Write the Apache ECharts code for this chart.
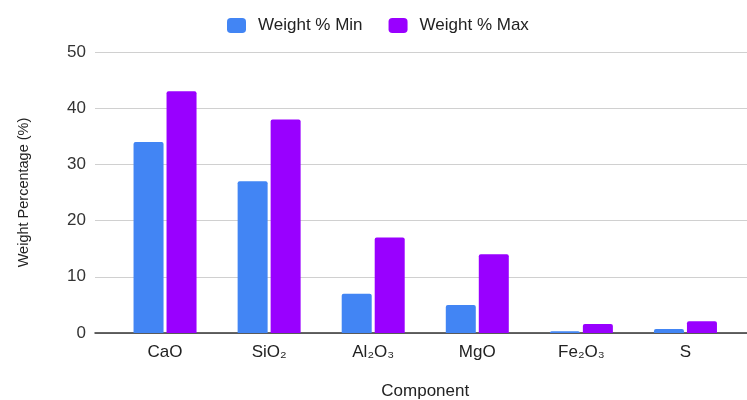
<!DOCTYPE html>
<html>
<head>
<meta charset="utf-8">
<script src="https://cdn.jsdelivr.net/npm/echarts@6/dist/echarts.min.js"></script>
<style>html,body{margin:0;padding:0;background:#fff;}#c{width:747px;height:400px;}</style>
</head>
<body>
<div id="c"></div>
<script>
const categories = ['CaO', 'SiO₂', 'Al₂O₃', 'MgO', 'Fe₂O₃', 'S'];
const minValues = [34, 27, 7, 5, 0.3, 0.7];
const maxValues = [43, 38, 17, 14, 1.6, 2.1];
const yTicks = [0, 10, 20, 30, 40, 50];

const font = 'Liberation Sans, Arial, sans-serif';
const chart = echarts.init(document.getElementById('c'), null, {renderer: 'canvas'});
chart.setOption({
  backgroundColor: '#ffffff',
  animation: false,
  textStyle: {fontFamily: font},
  legend: {
    top: 12, left: 222,
    itemWidth: 19, itemHeight: 15, itemGap: 26,
    icon: 'roundRect',
    textStyle: {fontFamily: font, fontSize: 17, color: '#222', padding: [0, 0, 0, 7]},
    data: ['Weight % Min', 'Weight % Max']
  },
  grid: [
    {left: 95, right: 0, top: 52, bottom: 67, outerBoundsMode: 'none', containLabel: false},
    {left: 113, right: 9.5, top: 52, bottom: 67, outerBoundsMode: 'none', containLabel: false}
  ],
  xAxis: [
    {gridIndex: 0, type: 'category', data: [''], axisLine: {lineStyle: {color: '#333', width: 1.5}},
     axisTick: {show: false}, axisLabel: {show: false}},
    {gridIndex: 1, type: 'category', data: categories,
     axisLine: {show: false}, axisTick: {show: false},
     axisLabel: {fontFamily: font, fontSize: 17, color: '#222', margin: 11},
     name: 'Component', nameLocation: 'middle', nameGap: 50,
     nameTextStyle: {fontFamily: font, fontSize: 17, color: '#222'}}
  ],
  yAxis: [
    {gridIndex: 0, type: 'value', min: yTicks[0], max: yTicks[yTicks.length - 1], interval: 10,
     axisLine: {show: false}, axisTick: {show: false},
     splitLine: {lineStyle: {color: '#d0d0d0', width: 1}},
     axisLabel: {fontFamily: font, fontSize: 17, color: '#333', margin: 9},
     name: 'Weight Percentage (%)', nameLocation: 'middle', nameGap: 64,
     nameTextStyle: {fontFamily: font, fontSize: 14.5, color: '#222'}},
    {gridIndex: 1, type: 'value', min: 0, max: 50, interval: 10, show: false}
  ],
  series: [
    {name: 'Weight % Min', type: 'bar', xAxisIndex: 1, yAxisIndex: 1, data: minValues,
     barWidth: 30, barGap: '10%', itemStyle: {color: '#4285F4', borderRadius: [2, 2, 0, 0]}},
    {name: 'Weight % Max', type: 'bar', xAxisIndex: 1, yAxisIndex: 1, data: maxValues,
     barWidth: 30, barGap: '10%', itemStyle: {color: '#9900FF', borderRadius: [2, 2, 0, 0]}}
  ]
});
</script>
</body>
</html>
